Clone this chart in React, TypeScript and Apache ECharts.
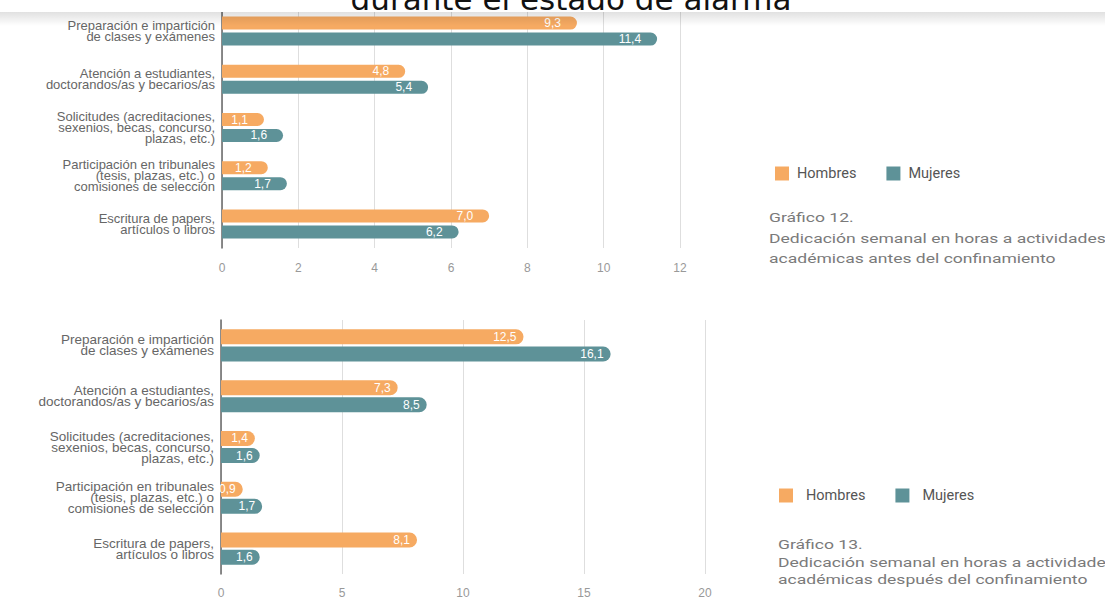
import React, { useEffect, useRef } from "react";
import * as echarts from "echarts";

const categories = [
  "Preparación e impartición\nde clases y exámenes",
  "Atención a estudiantes,\ndoctorandos/as y becarios/as",
  "Solicitudes (acreditaciones,\nsexenios, becas, concurso,\nplazas, etc.)",
  "Participación en tribunales\n(tesis, plazas, etc.) o\ncomisiones de selección",
  "Escritura de papers,\nartículos o libros",
];
const antesHombres = [9.3, 4.8, 1.1, 1.2, 7.0];
const antesMujeres = [11.4, 5.4, 1.6, 1.7, 6.2];
const despuesHombres = [12.5, 7.3, 1.4, 0.9, 8.1];
const despuesMujeres = [16.1, 8.5, 1.6, 1.7, 1.6];
const seriesNames = ["Hombres", "Mujeres"];
const titleText = "durante el estado de alarma";
const caption12 = [
  "Gráfico 12.",
  "Dedicación semanal en horas a actividades",
  "académicas antes del confinamiento",
];
const caption13 = [
  "Gráfico 13.",
  "Dedicación semanal en horas a actividades",
  "académicas después del confinamiento",
];

const ORANGE = "#F6AA62";
const TEAL = "#5E9298";
const FONT = "Liberation Sans";

const fmt = (p: any) => Number(p.value).toFixed(1).replace(".", ",");

function barSeries(name: string, data: number[], idx: number, color: string, width: number, gap: string, dist: number) {
  return {
    type: "bar",
    name,
    data,
    xAxisIndex: idx,
    yAxisIndex: idx,
    barWidth: width,
    barGap: gap,
    itemStyle: { color, borderRadius: [0, width / 2, width / 2, 0] },
    label: {
      show: true,
      position: "insideRight",
      distance: dist,
      color: "#fff",
      fontSize: 12,
      fontFamily: FONT,
      overflow: "none",
      formatter: fmt,
    },
    labelLayout: { hideOverlap: false },
  };
}

function captionTexts(lines: string[], x: number, ys: number[]) {
  return lines.map((t, i) => ({
    type: "text",
    x,
    y: ys[i],
    scaleX: 1.3,
    style: {
      text: t,
      fill: "#7a7a7a",
      fontSize: 13.5,
      fontFamily: "Roboto",
      textVerticalAlign: "middle",
    },
    z: 10,
  }));
}

export default function App() {
  const ref = useRef<HTMLDivElement>(null);
  useEffect(() => {
    if (!ref.current) return;
    const chart = echarts.init(ref.current, null, { renderer: "svg" });
    const xAxisCommon = {
      type: "value",
      axisLine: { show: false },
      axisTick: { show: false },
      splitLine: { show: true, lineStyle: { color: "#dedede", width: 1 } },
      axisLabel: { color: "#999", fontSize: 12, fontFamily: FONT },
    };
    const yAxisCommon = {
      type: "category",
      data: categories,
      inverse: true,
      axisTick: { show: false },
      axisLine: { show: true, lineStyle: { color: "#666", width: 1.5 } },
      splitLine: { show: false },
    };
    chart.setOption({
      animation: false,
      backgroundColor: "#fff",
      grid: [
        { left: 222, top: 7, width: 458, height: 241 },
        { left: 221, top: 320, width: 484, height: 254 },
      ],
      xAxis: [
        { ...xAxisCommon, gridIndex: 0, min: 0, max: 12, interval: 2, axisLabel: { ...xAxisCommon.axisLabel, margin: 14 } },
        { ...xAxisCommon, gridIndex: 1, min: 0, max: 20, interval: 5, axisLabel: { ...xAxisCommon.axisLabel, margin: 13 } },
      ],
      yAxis: [
        { ...yAxisCommon, gridIndex: 0, axisLabel: { color: "#666", fontSize: 13, lineHeight: 11, fontFamily: FONT, margin: 7 } },
        { ...yAxisCommon, gridIndex: 1, axisLabel: { color: "#666", fontSize: 13.5, lineHeight: 11, fontFamily: FONT, margin: 7 } },
      ],
      legend: [
        {
          data: seriesNames,
          left: 775,
          top: 166,
          padding: 0,
          itemWidth: 14,
          itemHeight: 14,
          itemGap: 30,
          icon: "rect",
          selectedMode: false,
          textStyle: { color: "#555", fontSize: 14.5, fontFamily: "Roboto", padding: [0, 0, 0, 3] },
        },
        {
          data: seriesNames,
          left: 779,
          top: 488,
          padding: 0,
          itemWidth: 14,
          itemHeight: 14,
          itemGap: 30,
          icon: "rect",
          selectedMode: false,
          textStyle: { color: "#555", fontSize: 14.5, fontFamily: "Roboto", padding: [0, 0, 0, 8] },
        },
      ],
      series: [
        barSeries(seriesNames[0], antesHombres, 0, ORANGE, 13, "23%", 16),
        barSeries(seriesNames[1], antesMujeres, 0, TEAL, 13, "23%", 16),
        barSeries(seriesNames[0], despuesHombres, 1, ORANGE, 15, "14%", 7),
        barSeries(seriesNames[1], despuesMujeres, 1, TEAL, 15, "14%", 7),
      ],
      graphic: [
        {
          type: "rect",
          shape: { x: 0, y: 0, width: 1105, height: 12 },
          style: { fill: "#fff" },
          z: 20,
        },
        {
          type: "rect",
          shape: { x: 0, y: 12, width: 1105, height: 14 },
          style: {
            fill: new echarts.graphic.LinearGradient(0, 0, 0, 1, [
              { offset: 0, color: "rgba(0,0,0,0.12)" },
              { offset: 1, color: "rgba(0,0,0,0)" },
            ]),
          },
          z: 20,
          silent: true,
        },
        {
          type: "text",
          x: 571,
          y: -0.7,
          style: {
            text: titleText,
            fill: "#111",
            fontSize: 31,
            fontFamily: "DejaVu Sans",
            textAlign: "center",
            textVerticalAlign: "middle",
          },
          z: 21,
        },
        ...captionTexts(caption12, 769, [217, 238, 258]),
        ...captionTexts(caption13, 778, [544, 562, 579]),
      ],
    });
    return () => chart.dispose();
  }, []);
  return (
    <div
      ref={ref}
      style={{ position: "absolute", left: 0, top: 0, width: 1105, height: 599, background: "#fff" }}
    />
  );
}
